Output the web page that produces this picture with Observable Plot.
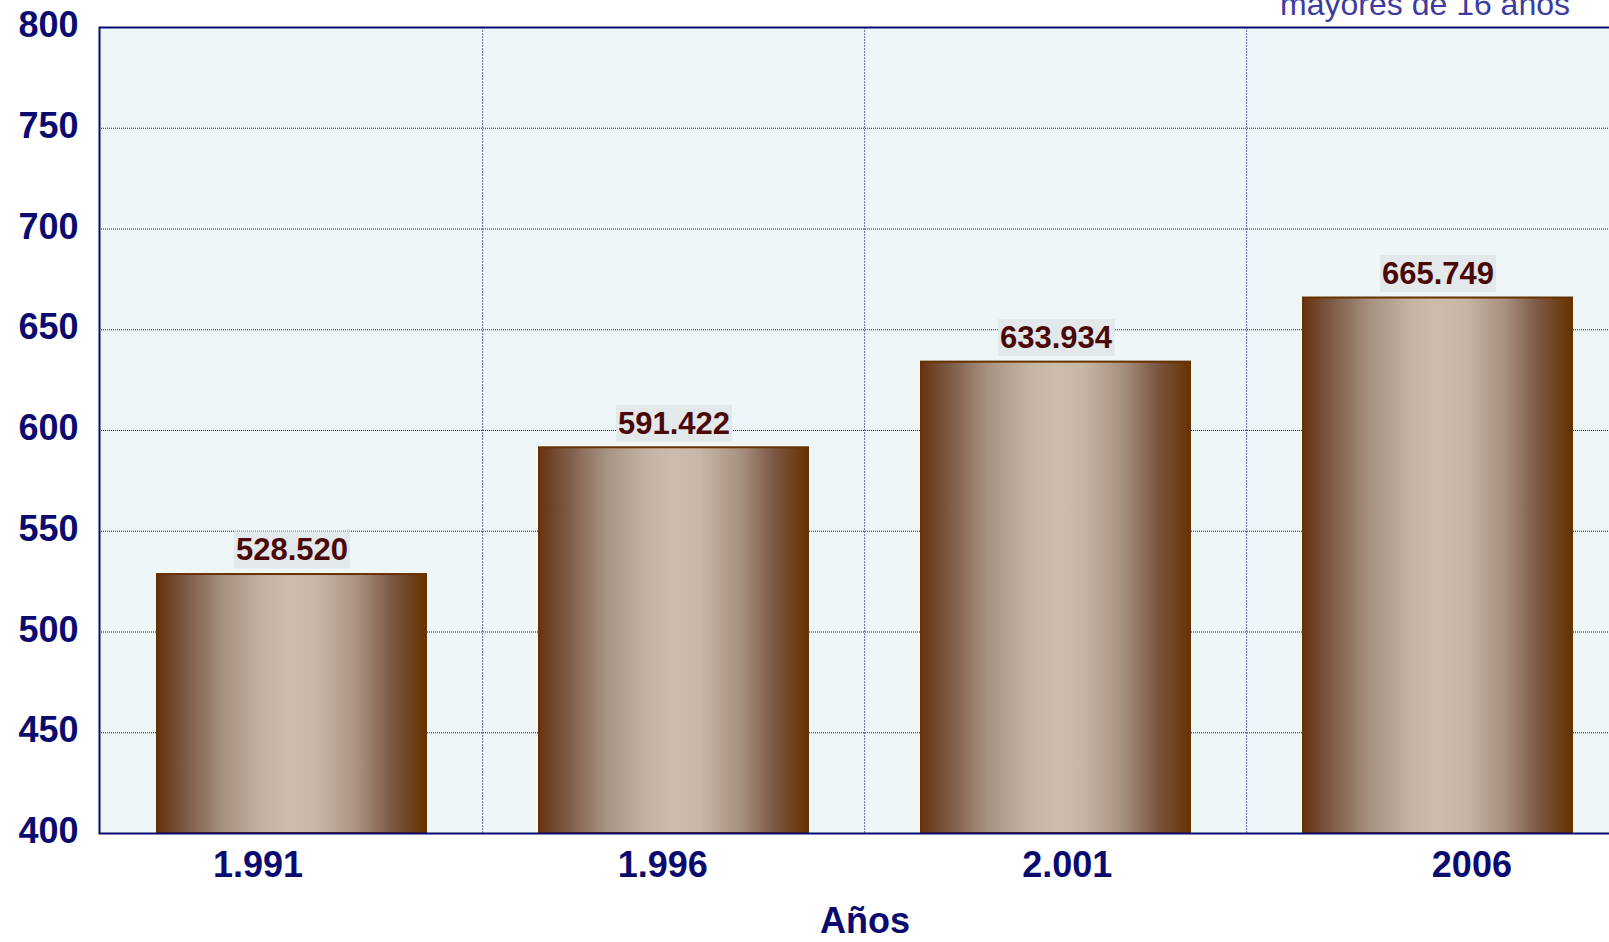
<!DOCTYPE html>
<html>
<head>
<meta charset="utf-8">
<script src="https://cdn.jsdelivr.net/npm/d3@7"></script>
<script src="https://cdn.jsdelivr.net/npm/@observablehq/plot@0.6"></script>
<style>
  html, body { margin: 0; padding: 0; background: #ffffff; overflow: hidden; width: 1609px; height: 942px; }
  #wrap { position: relative; width: 1609px; height: 942px; overflow: hidden; }
  #legend { position: absolute; right: 39px; top: -12px; font: 32px "Liberation Sans", Arial, sans-serif; line-height: 32px; color: #3c3ca0; white-space: nowrap; }
  #wrap svg { display: block; max-width: none !important; width: 1650px !important; height: 942px !important; }
</style>
</head>
<body>
<div id="wrap">
  <div id="legend">mayores de 16 años</div>
</div>
<script>
// ---- data ----
const years = ["1.991", "1.996", "2.001", "2006"];
const values = [528.520, 591.422, 633.934, 665.749]; // miles de personas
const labels = ["528.520", "591.422", "633.934", "665.749"];
const yTicks = [400, 450, 500, 550, 600, 650, 700, 750, 800];
const xTitle = "Años";

const data = years.map((year, i) => ({year, value: values[i], label: labels[i]}));

// ---- layout ----
const W = 1650, H = 942;
const mL = 99, mR = 20, mT = 27, mB = 109;
const step = (W - mL - mR) / years.length;
const labelSpread = 22.6; // extra spacing of the category labels
const navy = "#0b0b6f";
const font = '"Liberation Sans", Arial, Helvetica, sans-serif';

const gradStops = [
  [0, "#663311"], [0.1, "#7b5843"], [0.25, "#a89282"], [0.4, "#c5b3a3"],
  [0.5, "#cdbcac"], [0.6, "#c8b6a6"], [0.75, "#a89080"], [0.88, "#7a5540"], [1, "#663300"]
];

const defsMark = () => {
  const defs = d3.create("svg:defs");
  const g = defs.append("linearGradient").attr("id", "barGrad")
    .attr("x1", "0").attr("x2", "1").attr("y1", "0").attr("y2", "0");
  gradStops.forEach(([o, c]) => g.append("stop").attr("offset", o).attr("stop-color", c));
  return defs.node();
};

const chart = Plot.plot({
  width: W,
  height: H,
  marginLeft: mL,
  marginRight: mR,
  marginTop: mT,
  marginBottom: mB,
  style: {fontFamily: font, background: "transparent", overflow: "visible", maxWidth: "none"},
  x: {domain: years, paddingInner: 0.295, paddingOuter: 0.1475, axis: null},
  y: {domain: [400, 800], axis: null},
  marks: [
    defsMark,
    Plot.frame({fill: "#eef6f8", stroke: null}),
    Plot.ruleY(yTicks.slice(1, -1), {stroke: "#1a1a80", strokeWidth: 1, strokeDasharray: "1,1"}),
    Plot.ruleX(years.slice(1), {stroke: "#6a6ab4", strokeWidth: 1, strokeDasharray: "2,1", dx: -step / 2}),
    Plot.barY(data, {x: "year", y1: yTicks[0], y2: "value", fill: "url(#barGrad)", stroke: "#663300", strokeWidth: 2}),
    Plot.text(data, {
      x: "year", y: "value", text: "label", dy: -24, lineAnchor: "middle",
      fill: "#4a0808", fontSize: 31, fontWeight: "bold", ariaLabel: () => "barlabel"
    }),
    Plot.frame({stroke: navy, strokeWidth: 2}),
    Plot.text(yTicks, {
      y: d => d, text: d => String(d), frameAnchor: "left", dx: -21, dy: -2,
      textAnchor: "end", fill: navy, fontSize: 36, fontWeight: "bold"
    }),
    Plot.text(years, {
      x: d => d, text: d => d, frameAnchor: "bottom", lineAnchor: "middle", dy: 32,
      fill: navy, fontSize: 36, fontWeight: "bold",
      render(index, scales, vals, dims, ctx, next) {
        const n = years.length;
        const x = vals.x ? Float64Array.from(vals.x, (v, i) => v + (i - (n - 1) / 2) * labelSpread) : vals.x;
        return next(index, scales, {...vals, x}, dims, ctx);
      }
    }),
    Plot.text([xTitle], {frameAnchor: "bottom", lineAnchor: "middle", dy: 88, fill: navy, fontSize: 36, fontWeight: "bold"})
  ]
});

document.getElementById("wrap").prepend(chart);

// background boxes behind the bar value labels
chart.querySelectorAll('text[aria-label="barlabel"]').forEach(t => {
  const b = t.getBBox();
  const r = document.createElementNS("http://www.w3.org/2000/svg", "rect");
  r.setAttribute("x", b.x - 2);
  r.setAttribute("y", b.y - 1);
  r.setAttribute("width", b.width + 4);
  r.setAttribute("height", b.height + 2);
  r.setAttribute("fill", "#e3e9ea");
  r.setAttribute("stroke", "none");
  if (t.getAttribute("transform")) r.setAttribute("transform", t.getAttribute("transform"));
  t.parentNode.insertBefore(r, t);
});
</script>
</body>
</html>
